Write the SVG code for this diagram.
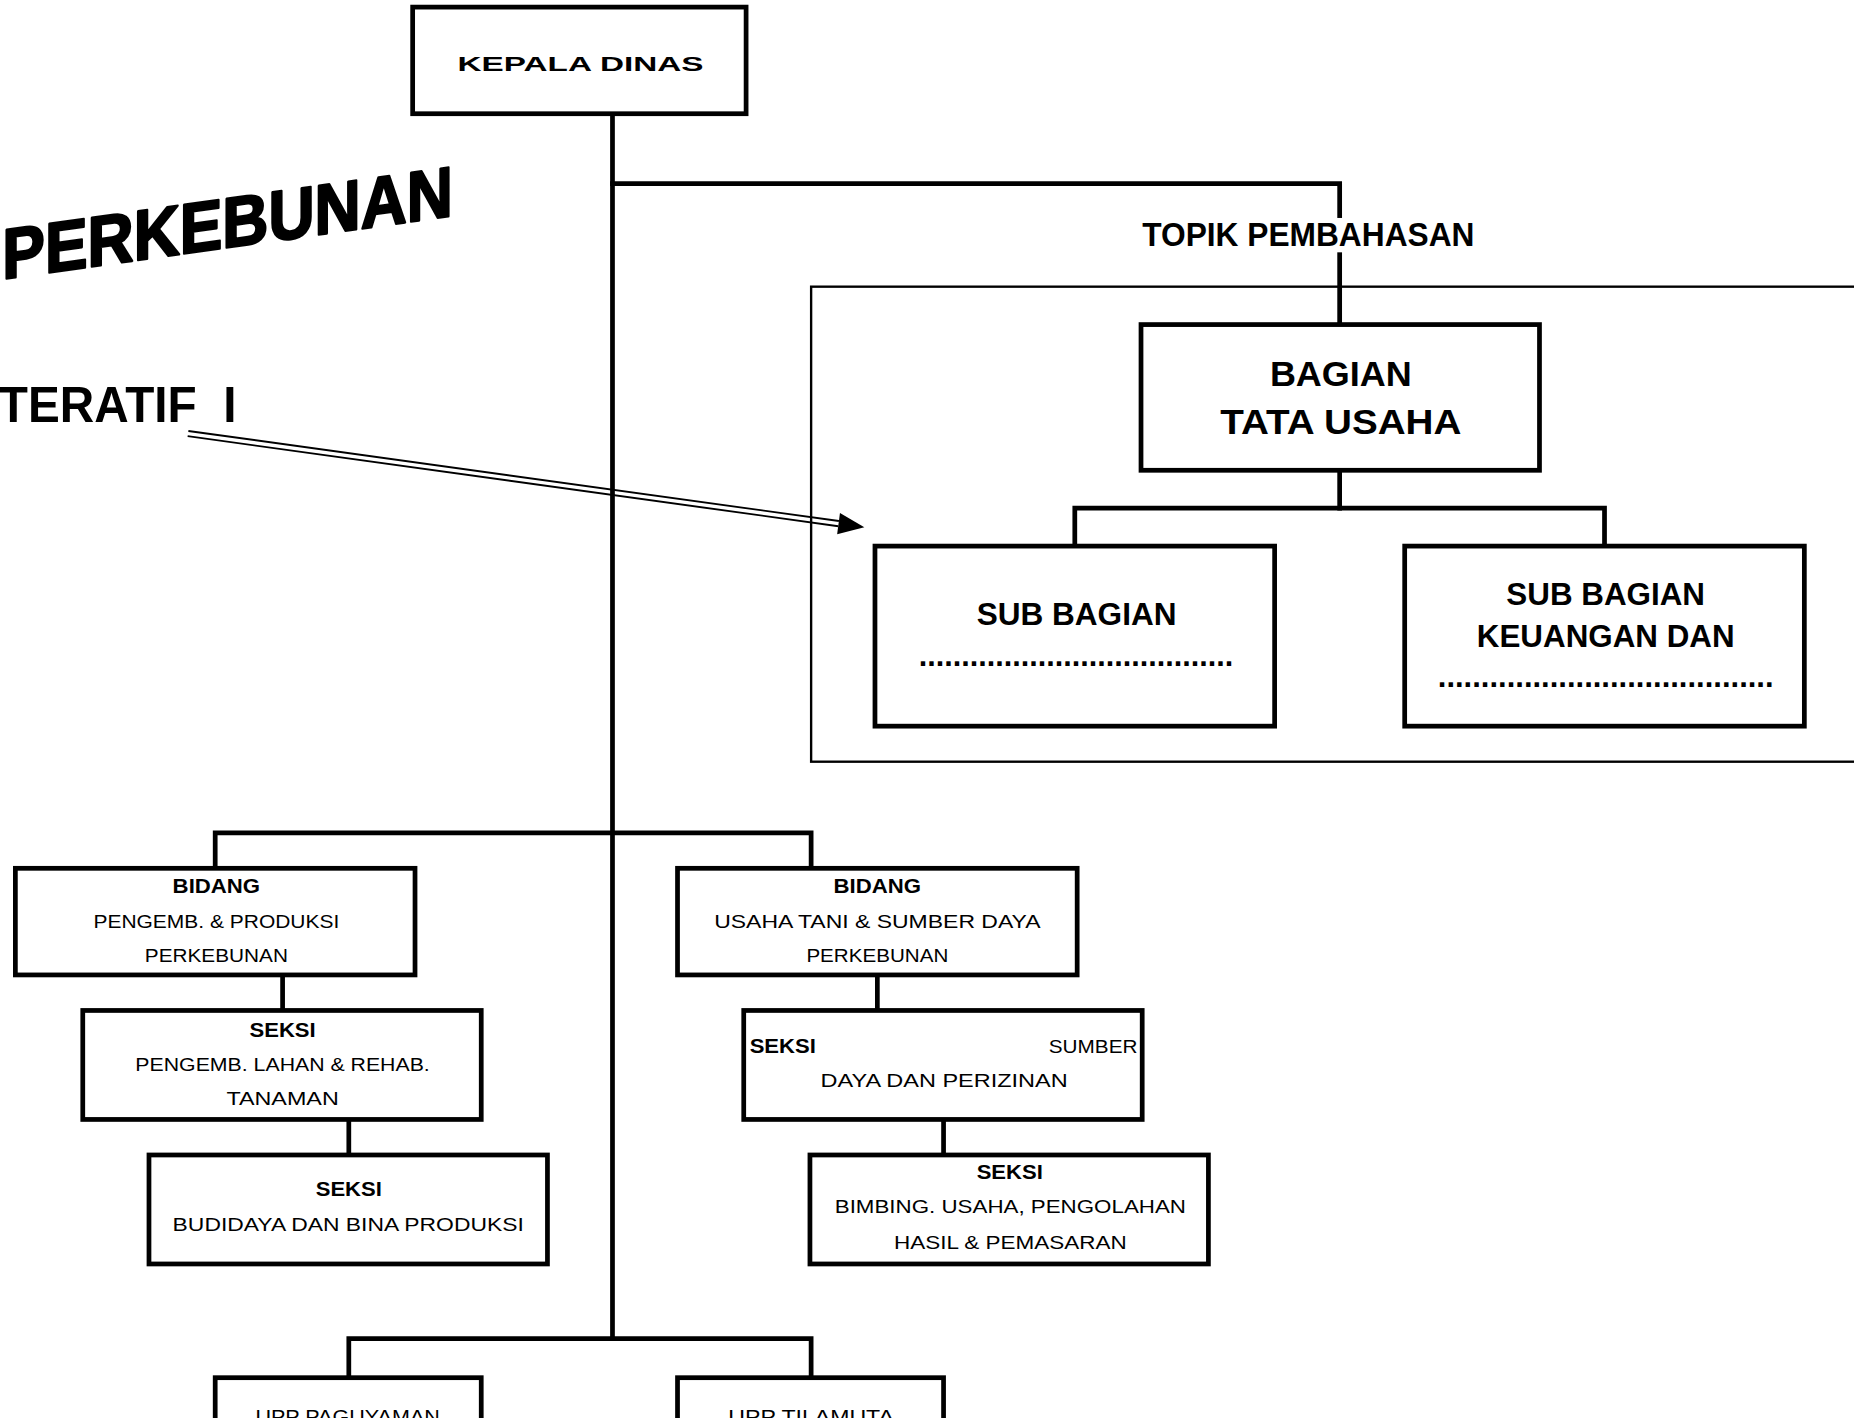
<svg xmlns="http://www.w3.org/2000/svg" width="1854" height="1418" viewBox="0 0 1854 1418">
<style>
.box{fill:#fff;stroke:#000;stroke-width:4}
.frame{fill:none;stroke:#000;stroke-width:2}
.ln{fill:none;stroke:#000;stroke-width:4;stroke-linecap:square}
.arw{fill:none;stroke:#000;stroke-width:1.6}
.c{font-family:"Liberation Sans",Arial,sans-serif;font-size:16px;text-anchor:middle;fill:#000}
.cb{font-family:"Liberation Sans",Arial,sans-serif;font-size:17px;font-weight:bold;text-anchor:middle;fill:#000}
.a{font-family:"Liberation Sans",Arial,sans-serif;font-weight:bold;text-anchor:middle;fill:#000}
</style>
<rect x="0" y="0" width="1854" height="1418" fill="#fff"/>
<g transform="scale(1.1824 1.1846)">
  <g id="title">
    <text x="2" y="236" transform="skewY(-8)" font-family="'Liberation Sans',Arial,sans-serif" font-weight="bold" font-size="60" stroke="#000" stroke-width="2" stroke-linejoin="round" textLength="381" lengthAdjust="spacingAndGlyphs">PERKEBUNAN</text>
    <text x="-1" y="356" font-family="'Liberation Sans',Arial,sans-serif" font-weight="bold" font-size="42" textLength="201" lengthAdjust="spacingAndGlyphs">TERATIF&#160; I</text>
  </g>
  <rect id="topic-frame" class="frame" x="686" y="242" width="960" height="401"/>
  <g id="connectors">
    <path class="ln" d="M518,96 V1130"/>
    <path class="ln" d="M518,155 H1133 V274"/>
    <path class="ln" d="M1133,397 V429"/>
    <path class="ln" d="M909,461 V429 H1357 V461"/>
    <path class="ln" d="M182,733 V703 H686 V733"/>
    <path class="ln" d="M239,823 V853"/>
    <path class="ln" d="M295,945 V975"/>
    <path class="ln" d="M742,823 V853"/>
    <path class="ln" d="M798,945 V975"/>
    <path class="ln" d="M295,1163 V1130 H686 V1163"/>
    <g id="arrow">
      <line class="arw" x1="158.7" y1="368.2" x2="709" y2="444.2"/>
      <line class="arw" x1="159.3" y1="363.8" x2="709.5" y2="439.8"/>
      <polygon points="731,445 710.4,433.1 708,450.9" fill="#000"/>
    </g>
  </g>
  <g id="topik">
    <rect x="962" y="184" width="290" height="29" fill="#fff"/>
    <text class="a" x="1106.5" y="208" font-size="28" textLength="281" lengthAdjust="spacingAndGlyphs">TOPIK PEMBAHASAN</text>
  </g>
  <g id="kepala-dinas">
    <rect class="box" x="349" y="6" width="282" height="90"/>
    <text class="cb" x="491" y="60" font-size="23" textLength="208" lengthAdjust="spacingAndGlyphs">KEPALA DINAS</text>
  </g>
  <g id="bagian-tata-usaha">
    <rect class="box" x="965" y="274" width="337" height="123"/>
    <text class="a" x="1134" y="326" font-size="30" textLength="120" lengthAdjust="spacingAndGlyphs">BAGIAN</text>
    <text class="a" x="1134" y="366" font-size="30" textLength="204" lengthAdjust="spacingAndGlyphs">TATA USAHA</text>
  </g>
  <g id="sub-bagian-1">
    <rect class="box" x="740" y="461" width="338" height="152"/>
    <text class="a" x="910.5" y="528" font-size="26" textLength="169" lengthAdjust="spacingAndGlyphs">SUB BAGIAN</text>
    <text class="a" x="910" y="562" font-size="26" textLength="266" lengthAdjust="spacingAndGlyphs">.....................................</text>
  </g>
  <g id="sub-bagian-keuangan">
    <rect class="box" x="1188" y="461" width="338" height="152"/>
    <text class="a" x="1358" y="511" font-size="26" textLength="168" lengthAdjust="spacingAndGlyphs">SUB BAGIAN</text>
    <text class="a" x="1358" y="546" font-size="26" textLength="218" lengthAdjust="spacingAndGlyphs">KEUANGAN DAN</text>
    <text class="a" x="1358" y="580" font-size="26" textLength="284" lengthAdjust="spacingAndGlyphs">.......................................</text>
  </g>
  <g id="bidang-pengembangan">
    <rect class="box" x="13" y="733" width="338" height="90"/>
    <text class="cb" x="183" y="754" textLength="74" lengthAdjust="spacingAndGlyphs">BIDANG</text>
    <text class="c" x="183" y="783" textLength="208" lengthAdjust="spacingAndGlyphs">PENGEMB. &amp; PRODUKSI</text>
    <text class="c" x="183" y="812" textLength="121" lengthAdjust="spacingAndGlyphs">PERKEBUNAN</text>
  </g>
  <g id="bidang-usaha-tani">
    <rect class="box" x="573" y="733" width="338" height="90"/>
    <text class="cb" x="742" y="754" textLength="74" lengthAdjust="spacingAndGlyphs">BIDANG</text>
    <text class="c" x="742" y="783" textLength="276" lengthAdjust="spacingAndGlyphs">USAHA TANI &amp; SUMBER DAYA</text>
    <text class="c" x="742" y="812" textLength="120" lengthAdjust="spacingAndGlyphs">PERKEBUNAN</text>
  </g>
  <g id="seksi-lahan">
    <rect class="box" x="70" y="853" width="337" height="92"/>
    <text class="cb" x="239" y="875" textLength="56" lengthAdjust="spacingAndGlyphs">SEKSI</text>
    <text class="c" x="239" y="904" textLength="249" lengthAdjust="spacingAndGlyphs">PENGEMB. LAHAN &amp; REHAB.</text>
    <text class="c" x="239" y="933" textLength="95" lengthAdjust="spacingAndGlyphs">TANAMAN</text>
  </g>
  <g id="seksi-budidaya">
    <rect class="box" x="126" y="975" width="337" height="92"/>
    <text class="cb" x="295" y="1010" textLength="56" lengthAdjust="spacingAndGlyphs">SEKSI</text>
    <text class="c" x="294.5" y="1039" textLength="297" lengthAdjust="spacingAndGlyphs">BUDIDAYA DAN BINA PRODUKSI</text>
  </g>
  <g id="seksi-sumber-daya">
    <rect class="box" x="629" y="853" width="337" height="92"/>
    <text class="cb" x="634" y="889" style="text-anchor:start" textLength="56" lengthAdjust="spacingAndGlyphs">SEKSI</text>
    <text class="c" x="962" y="889" style="text-anchor:end" textLength="75" lengthAdjust="spacingAndGlyphs">SUMBER</text>
    <text class="c" x="798.5" y="918" textLength="209" lengthAdjust="spacingAndGlyphs">DAYA DAN PERIZINAN</text>
  </g>
  <g id="seksi-bimbingan">
    <rect class="box" x="685" y="975" width="337" height="92"/>
    <text class="cb" x="854" y="995" textLength="56" lengthAdjust="spacingAndGlyphs">SEKSI</text>
    <text class="c" x="854.5" y="1024" textLength="297" lengthAdjust="spacingAndGlyphs">BIMBING. USAHA, PENGOLAHAN</text>
    <text class="c" x="854.5" y="1054" textLength="197" lengthAdjust="spacingAndGlyphs">HASIL &amp; PEMASARAN</text>
  </g>
  <g id="upp-paguyaman">
    <rect class="box" x="182" y="1163" width="225" height="100"/>
    <text class="c" x="294" y="1201" textLength="156" lengthAdjust="spacingAndGlyphs">UPP PAGUYAMAN</text>
  </g>
  <g id="upp-tilamuta">
    <rect class="box" x="573" y="1163" width="225" height="100"/>
    <text class="c" x="686" y="1201" textLength="140" lengthAdjust="spacingAndGlyphs">UPP TILAMUTA</text>
  </g>
</g>
</svg>
